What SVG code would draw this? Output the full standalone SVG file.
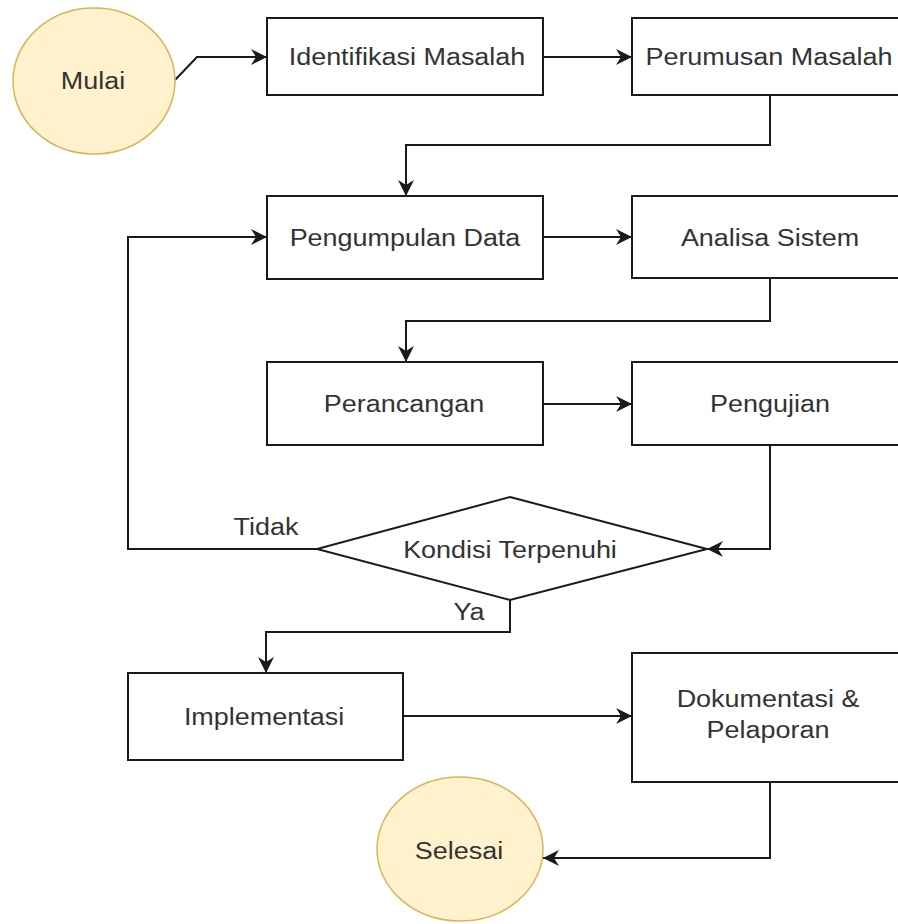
<svg xmlns="http://www.w3.org/2000/svg" width="898" height="924" viewBox="0 0 898 924">
<style>
.box{fill:#ffffff;stroke:#1a1a1a;stroke-width:2}
.term{fill:#fff2cc;stroke:#d6b656;stroke-width:1.5}
.lbl{font-family:"Liberation Sans",Arial,sans-serif;font-size:24.5px;fill:#333333;text-anchor:middle}
.conn{fill:none;stroke:#1a1a1a;stroke-width:2}
</style>
<defs>
<marker id="arr" markerUnits="userSpaceOnUse" markerWidth="18" markerHeight="16" refX="16" refY="8" orient="auto">
<path d="M0,0 L16,8 L0,16 L5,8 z" fill="#1a1a1a"/>
</marker>
</defs>
<rect width="898" height="924" fill="#ffffff"/>
<g id="connectors">
<path class="conn" d="M175,80 L197,57 L267,57" marker-end="url(#arr)"/>
<path class="conn" d="M543,57 L632,57" marker-end="url(#arr)"/>
<path class="conn" d="M770,95 V145 H406 V196" marker-end="url(#arr)"/>
<path class="conn" d="M543,237 H632" marker-end="url(#arr)"/>
<path class="conn" d="M770,278 V321 H406 V362" marker-end="url(#arr)"/>
<path class="conn" d="M543,404 H632" marker-end="url(#arr)"/>
<path class="conn" d="M770,445 V549 H707" marker-end="url(#arr)"/>
<path class="conn" d="M317,549 H128 V237 H267" marker-end="url(#arr)"/>
<path class="conn" d="M510,600 V632 H266 V673" marker-end="url(#arr)"/>
<path class="conn" d="M403,716 H632" marker-end="url(#arr)"/>
<path class="conn" d="M770,782 V858 H543" marker-end="url(#arr)"/>
<text class="lbl" transform="translate(266 535) scale(1.1 1)">Tidak</text>
<text class="lbl" transform="translate(469 620) scale(1.1 1)">Ya</text>
</g>
<g id="mulai">
<ellipse class="term" cx="94" cy="81" rx="81" ry="73"/>
<text class="lbl" transform="translate(93 89) scale(1.1 1)">Mulai</text>
</g>
<g id="identifikasi">
<rect class="box" x="267" y="18" width="276" height="77"/>
<text class="lbl" transform="translate(407 65) scale(1.1 1)">Identifikasi Masalah</text>
</g>
<g id="perumusan">
<rect class="box" x="632" y="18" width="276" height="77"/>
<text class="lbl" transform="translate(769 64.5) scale(1.1 1)">Perumusan Masalah</text>
</g>
<g id="pengumpulan">
<rect class="box" x="267" y="196" width="276" height="83"/>
<text class="lbl" transform="translate(405 245.5) scale(1.1 1)">Pengumpulan Data</text>
</g>
<g id="analisa">
<rect class="box" x="632" y="196" width="276" height="82"/>
<text class="lbl" transform="translate(770 245.5) scale(1.1 1)">Analisa Sistem</text>
</g>
<g id="perancangan">
<rect class="box" x="267" y="362" width="276" height="83"/>
<text class="lbl" transform="translate(404 412) scale(1.1 1)">Perancangan</text>
</g>
<g id="pengujian">
<rect class="box" x="632" y="362" width="276" height="83"/>
<text class="lbl" transform="translate(770 412) scale(1.1 1)">Pengujian</text>
</g>
<g id="kondisi">
<polygon class="box" points="510,497 707,549 510,600 317,549"/>
<text class="lbl" transform="translate(510 557.5) scale(1.1 1)">Kondisi Terpenuhi</text>
</g>
<g id="implementasi">
<rect class="box" x="128" y="673" width="275" height="87"/>
<text class="lbl" transform="translate(264 725) scale(1.1 1)">Implementasi</text>
</g>
<g id="dokumentasi">
<rect class="box" x="632" y="653" width="276" height="129"/>
<text class="lbl" transform="translate(768 707) scale(1.1 1)">Dokumentasi &amp;</text>
<text class="lbl" transform="translate(768 738) scale(1.1 1)">Pelaporan</text>
</g>
<g id="selesai">
<ellipse class="term" cx="460" cy="849" rx="83" ry="72"/>
<text class="lbl" transform="translate(459 859) scale(1.1 1)">Selesai</text>
</g>
</svg>
